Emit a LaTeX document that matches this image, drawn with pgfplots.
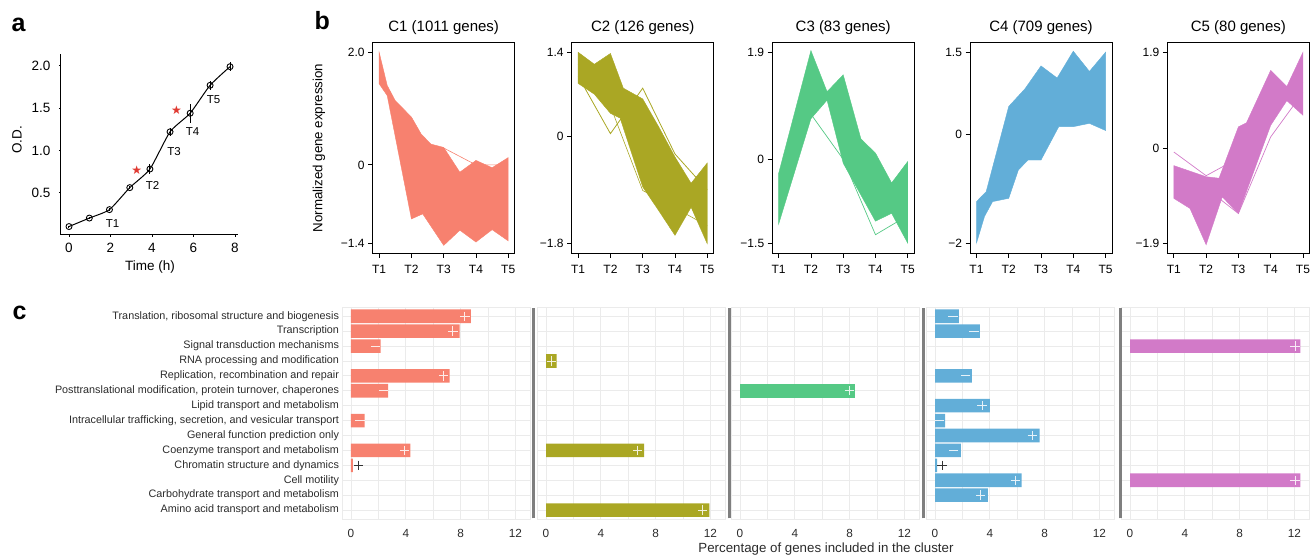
\documentclass[border=0pt]{standalone}
\usepackage{pgfplots}
\pgfplotsset{compat=1.18}
\usepackage{fontspec}
\setmainfont{Liberation Sans}
\newfontfamily\dejavu{DejaVu Sans}
\definecolor{c1}{HTML}{F7816F}
\definecolor{c2}{HTML}{AAA724}
\definecolor{c3}{HTML}{55C985}
\definecolor{c4}{HTML}{62AED8}
\definecolor{c5}{HTML}{D27AC8}
\definecolor{gridc}{HTML}{EBEBEB}
\definecolor{sepc}{HTML}{7F7F7F}
\definecolor{txtc}{HTML}{2B2B2B}
\definecolor{starc}{HTML}{E03A32}
\pgfplotsset{
  bpanel/.style={scale only axis, width=142pt, height=210.6pt, anchor=south west,
    xmin=0.8, xmax=5.2, xtick={1,2,3,4,5}, xticklabels={T1,T2,T3,T4,T5},
    tick align=outside, major tick length=4.5pt, tick pos=left,
    tick style={black, line width=0.8pt}, axis line style={line width=0.8pt},
    tick label style={font=\fontsize{12}{14}\selectfont},
    xticklabel style={yshift=-4pt},
    title style={font=\fontsize{15}{18}\selectfont, at={(0.5,1)}, anchor=base, yshift=5pt}},
  cpanel/.style={scale only axis, width=188pt, height=211.7pt, anchor=south west,
    xmin=-0.62, xmax=13.1, ymin=0.4, ymax=14.6, y dir=reverse,
    xtick={0,4,8,12}, xticklabels={0,4,8,12}, minor xtick={2,6,10},
    ytick={1,...,14}, yticklabels={}, grid=both,
    major grid style={gridc, line width=0.9pt}, minor grid style={gridc, line width=0.9pt},
    major tick length=0pt, minor tick length=0pt,
    axis line style={gridc, line width=0.9pt},
    tick label style={font=\fontsize{11.8}{13}\selectfont, text=txtc},
    xticklabel style={yshift=-7pt}},
  bars/.style={xbar, bar width=13.6pt, bar shift=0pt, draw=none},
  wplus/.style={only marks, mark=+, mark size=4.7pt, mark options={white, line width=0.9pt}, opacity=0.85},
  wminus/.style={only marks, mark=-, mark size=4.7pt, mark options={white, line width=0.9pt}, opacity=0.85},
  bplus/.style={only marks, mark=+, mark size=4.7pt, mark options={black!80, line width=0.9pt}},
}
\begin{document}
\begin{tikzpicture}[x=1pt,y=1pt]
\useasboundingbox (0,0) rectangle (1310,557);
% ---------------- panel a
\node[font=\bfseries\fontsize{25}{30}\selectfont, anchor=base west] at (8,525) {a};
\begin{axis}[at={(60.9pt,322pt)}, anchor=south west, scale only axis, width=177pt, height=181pt,
  xmin=-0.39, xmax=8.14, ymin=0, ymax=2.14,
  axis x line*=bottom, axis y line*=left, axis line style={line width=1pt},
  xtick={0,2,4,6,8}, xticklabels={0,2,4,6,8},
  ytick={0.5,1,1.5,2}, yticklabels={0.5,1.0,1.5,2.0},
  tick align=outside, major tick length=2pt, tick style={black, line width=0.8pt},
  tick label style={font=\fontsize{13.5}{15}\selectfont},
  xticklabel style={yshift=-3pt}, yticklabel style={xshift=-5pt}, clip=false]
\addplot[black, line width=1pt, smooth, tension=0.35, mark=o, mark size=3pt,
  mark options={solid, line width=0.9pt},
  error bars/.cd, y dir=both, y explicit, error mark=none, error bar style={line width=1pt}]
  coordinates {(0,0.10) +- (0,0.01) (0.98,0.20) +- (0,0.015) (1.95,0.30) +- (0,0.02)
   (2.93,0.56) +- (0,0.02) (3.9,0.78) +- (0,0.06) (4.87,1.22) +- (0,0.05)
   (5.84,1.44) +- (0,0.11) (6.8,1.77) +- (0,0.05) (7.76,1.99) +- (0,0.05)};
\addplot[only marks, mark=text, text mark={\textcolor{starc}{\fontsize{12}{12}\selectfont\dejavu ★}}]
  coordinates {(3.26,0.77) (5.18,1.48)};
\node[font=\fontsize{11.5}{13}\selectfont] at (axis cs:2.1,0.13) {T1};
\node[font=\fontsize{11.5}{13}\selectfont] at (axis cs:4.03,0.585) {T2};
\node[font=\fontsize{11.5}{13}\selectfont] at (axis cs:5.06,0.99) {T3};
\node[font=\fontsize{11.5}{13}\selectfont] at (axis cs:5.96,1.22) {T4};
\node[font=\fontsize{11.5}{13}\selectfont] at (axis cs:6.97,1.6) {T5};
\end{axis}
\node[font=\fontsize{13.5}{15}\selectfont, rotate=90] at (17,417) {O.D.};
\node[font=\fontsize{13.5}{15}\selectfont] at (150,290) {Time (h)};
% ---------------- panel b
\node[font=\bfseries\fontsize{25}{30}\selectfont, anchor=base west] at (311,527) {b};
\node[font=\fontsize{13.3}{15}\selectfont, rotate=90] at (319,409) {Normalized gene expression};
\begin{axis}[bpanel, at={(372.7pt,303.7pt)}, ymin=-1.57, ymax=2.17,
  ytick={-1.4,0,2}, yticklabels={−1.4,0,2.0}, title={C1 (1011 genes)}]
\addplot[fill=c1, draw=c1, line width=0.4pt] coordinates {(1,2.0) (1.25,1.41) (1.5,1.14) (2,0.85) (2.3,0.55) (2.6,0.37) (3,0.31) (3.5,-0.13) (4,0.08) (4.5,-0.05) (5,0.13)
 (5,-1.35) (4.5,-1.15) (4,-1.37) (3.5,-1.16) (3,-1.43) (2.35,-0.87) (2,-0.96) (1.25,1.23) (1,1.44)} -- cycle;
\addplot[c1, line width=0.6pt] coordinates {(3,0.3) (4,0.0) (5,0.0)};
\end{axis}
\begin{axis}[bpanel, at={(571.7pt,303.7pt)}, ymin=-1.96, ymax=1.56,
  ytick={-1.8,0,1.4}, yticklabels={−1.8,0,1.4}, title={C2 (126 genes)}]
\addplot[fill=c2, draw=c2, line width=0.4pt] coordinates {(1,1.4) (1.5,1.2) (2,1.38) (2.4,0.8) (3,0.62) (3.5,0.15) (4,-0.35) (4.5,-0.79) (5,-0.45)
 (5,-1.8) (4.5,-1.19) (4,-1.66) (3.5,-1.25) (3,-0.85) (2.3,0.3) (2,0.38) (1.5,0.7) (1,0.88)} -- cycle;
\addplot[c2, line width=0.8pt] coordinates {(1,1.0) (2,0.04) (3,0.8) (4,-0.3) (5,-0.9)};
\addplot[c2, line width=0.6pt] coordinates {(1,1.2) (2,0.5) (3,-0.91) (4,-1.2) (5,-1.5)};
\end{axis}
\begin{axis}[bpanel, at={(772.2pt,303.7pt)}, ymin=-1.67, ymax=2.07,
  ytick={-1.5,0,1.9}, yticklabels={−1.5,0,1.9}, title={C3 (83 genes)}]
\addplot[fill=c3, draw=c3, line width=0.4pt] coordinates {(1,-0.25) (2,1.93) (2.5,1.2) (3,1.5) (3.55,0.36) (4,0.11) (4.5,-0.42) (5,-0.04)
 (5,-1.49) (4.5,-0.96) (4,-1.1) (3,-0.07) (2.5,1.05) (2,0.72) (1,-1.15)} -- cycle;
\addplot[c3, line width=0.7pt] coordinates {(2,0.8) (3,0.0) (4,-1.34) (5,-1.0)};
\end{axis}
\begin{axis}[bpanel, at={(970pt,303.7pt)}, ymin=-2.175, ymax=1.675,
  ytick={-2,0,1.5}, yticklabels={−2,0,1.5}, title={C4 (709 genes)}]
\addplot[fill=c4, draw=c4, line width=0.4pt] coordinates {(1,-1.23) (1.3,-1.05) (2,0.51) (2.5,0.83) (3,1.25) (3.5,1.03) (4,1.52) (4.5,1.15) (5,1.5)
 (5,0.07) (4.5,0.2) (4,0.14) (3.55,0.14) (3,-0.47) (2.6,-0.47) (2.3,-0.65) (2,-1.17) (1.5,-1.23) (1.25,-1.5) (1,-1.99)} -- cycle;
\end{axis}
\begin{axis}[bpanel, at={(1167.4pt,303.7pt)}, ymin=-2.09, ymax=2.09,
  ytick={-1.9,0,1.9}, yticklabels={−1.9,0,1.9}, title={C5 (80 genes)}]
\addplot[fill=c5, draw=c5, line width=0.4pt] coordinates {(1,-0.35) (2,-0.57) (2.4,-0.6) (3,0.42) (3.25,0.5) (4,1.54) (4.5,1.22) (5,1.9)
 (5,0.65) (4.5,0.94) (4,0.45) (3,-1.3) (2.5,-0.97) (2,-1.92) (1.5,-1.2) (1,-1.0)} -- cycle;
\addplot[c5, line width=0.7pt] coordinates {(1,-0.08) (2,-0.55) (3,-0.2) (4,0.9) (5,1.3)};
\addplot[c5, line width=0.7pt] coordinates {(2,-0.8) (3,-1.3) (4,0.22) (5,1.1)};
\end{axis}
% ---------------- panel c
\node[font=\bfseries\fontsize{25}{30}\selectfont, anchor=base west] at (9,237) {c};
\begin{axis}[cpanel, at={(342.5pt,38pt)},
  yticklabels={Translation{,} ribosomal structure and biogenesis, Transcription, Signal transduction mechanisms, RNA processing and modification, Replication{,} recombination and repair, Posttranslational modification{,} protein turnover{,} chaperones, Lipid transport and metabolism, Intracellular trafficking{,} secretion{,} and vesicular transport, General function prediction only, Coenzyme transport and metabolism, Chromatin structure and dynamics, Cell motility, Carbohydrate transport and metabolism, Amino acid transport and metabolism},
  yticklabel style={font=\fontsize{10.8}{12}\selectfont, text=txtc}]
\addplot[bars, fill=c1] coordinates {(8.74,1) (7.93,2) (2.16,3) (7.2,5) (2.71,6) (1.0,8) (4.34,10) (0.13,11)};
\addplot[wplus] coordinates {(8.31,1) (7.43,2) (6.75,5) (3.92,10)};
\addplot[wminus] coordinates {(1.78,3) (2.36,6) (0.65,8)};
\addplot[bplus] coordinates {(0.55,11)};
\end{axis}
\begin{axis}[cpanel, at={(537.5pt,38pt)}]
\addplot[bars, fill=c2] coordinates {(0.78,4) (7.17,10) (11.93,14)};
\addplot[wplus] coordinates {(0.39,4) (6.68,10) (11.44,14)};
\end{axis}
\begin{axis}[cpanel, at={(731.5pt,38pt)}]
\addplot[bars, fill=c3] coordinates {(8.41,6)};
\addplot[wplus] coordinates {(8.0,6)};
\end{axis}
\begin{axis}[cpanel, at={(926.5pt,38pt)}]
\addplot[bars, fill=c4] coordinates {(1.75,1) (3.27,2) (2.69,5) (4.0,7) (0.73,8) (7.64,9) (1.89,10) (0.15,11) (6.33,12) (3.85,13)};
\addplot[wminus] coordinates {(1.31,1) (2.86,2) (2.23,5) (0.32,8) (1.36,10)};
\addplot[wplus] coordinates {(3.44,7) (7.1,9) (5.87,12) (3.32,13)};
\addplot[bplus] coordinates {(0.51,11)};
\end{axis}
\begin{axis}[cpanel, at={(1121.5pt,38pt)}]
\addplot[bars, fill=c5] coordinates {(12.44,3) (12.44,12)};
\addplot[wplus] coordinates {(12.05,3) (12.05,12)};
\end{axis}
\foreach \xx in {533,729.5,923.5,1120} {\draw[sepc, line width=3pt] (\xx,38.5) -- (\xx,249);}
\node[font=\fontsize{13.3}{15}\selectfont, text=txtc] at (826,8) {Percentage of genes included in the cluster};
\end{tikzpicture}
\end{document}
